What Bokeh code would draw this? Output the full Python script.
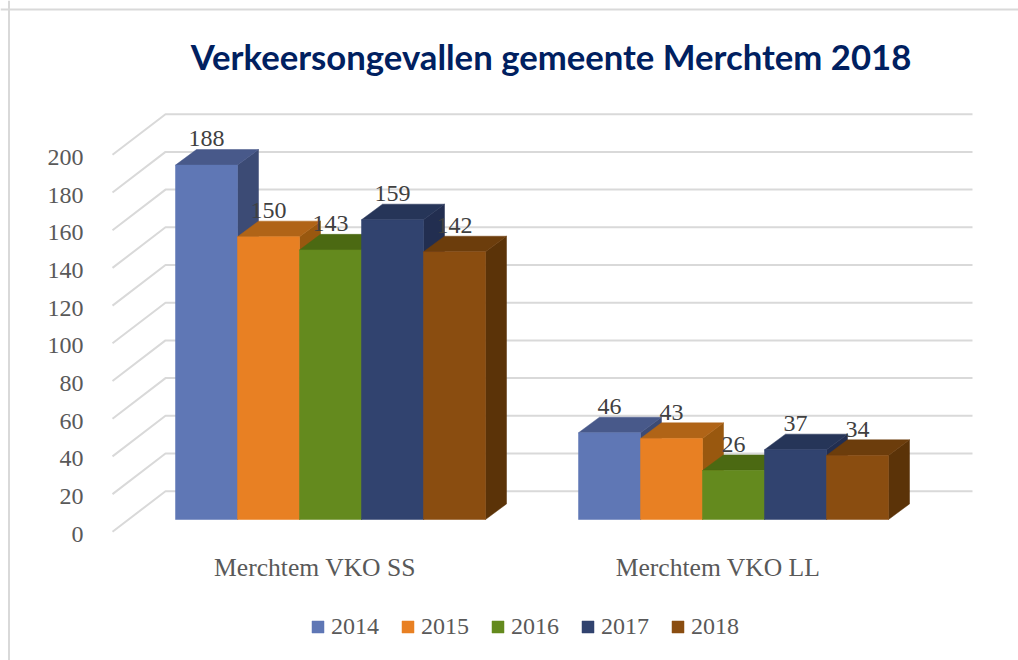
from bokeh.plotting import figure
from bokeh.embed import file_html
from bokeh.resources import INLINE
from bokeh.models import (Range1d, LinearAxis, FixedTicker, Label, Legend, LegendItem,
                          ColumnDataSource, Span)
from bokeh.core.properties import value

# ---- data ----
categories = ["Merchtem VKO SS", "Merchtem VKO LL"]
years = ["2014", "2015", "2016", "2017", "2018"]
values_2014 = [188, 46]
values_2015 = [150, 43]
values_2016 = [143, 26]
values_2017 = [159, 37]
values_2018 = [142, 34]
series = [values_2014, values_2015, values_2016, values_2017, values_2018]
y_ticks = list(range(0, 201, 20))
title_text = "Verkeersongevallen gemeente Merchtem 2018"

# ---- styles ----
front = ["#5f77b5", "#e88023", "#648a1e", "#31436f", "#8a4d10"]
top_c = ["#48598a", "#b06417", "#4b6912", "#263558", "#6c3d0c"]
side = ["#3c4b75", "#99580f", "#415b10", "#222e50", "#5b3308"]
GRID = "#d9d9d9"
AXTXT = "#595959"
LABTXT = "#404040"
SERIF = "Liberation Serif"

# ---- geometry: one x unit = one bar (62 px), y unit = one value (1.885 px) ----
W, H = 1018, 660
PXX, PXY = 62.0, 1.885
ORIGIN_X, ORIGIN_Y = 175.0, 531.3      # page pixel of x=0, y=0


def dx(px):
    return (px - ORIGIN_X) / PXX


def dy(py):
    return (ORIGIN_Y - py) / PXY


group_start = [0.0, 6.5]
bar_lift = 12.3 / PXY
bar_dx, bar_dy = 21 / PXX, 15.6 / PXY
wall_dx, wall_dy = 53 / PXX, 40.6 / PXY

p = figure(width=W, height=H, output_backend="svg", toolbar_location=None,
           x_range=Range1d(dx(0), dx(W)), y_range=Range1d(dy(H), dy(0)),
           x_axis_type=None, y_axis_type=None, min_border=0,
           min_border_left=0, min_border_right=0, min_border_top=0, min_border_bottom=0,
           outline_line_color=None, background_fill_color="white", border_fill_color="white")
p.grid.visible = False

# chart area border (top & left only are visible in the crop)
p.add_layout(Span(location=dx(8.5), dimension="height", line_color=GRID, line_width=2))
p.add_layout(Span(location=dy(9), dimension="width", line_color=GRID, line_width=2))

# gridlines: slanted floor part, then along the back wall
x_front = dx(112)
x_back = x_front + wall_dx
x_right = dx(972)
p.multi_line(xs=[[x_front, x_back, x_right] for _ in y_ticks],
             ys=[[t, t + wall_dy, t + wall_dy] for t in y_ticks],
             line_color=GRID, line_width=2)

# 3D bars
items = []
for i, vals in enumerate(series):
    x0 = [g + i for g in group_start]
    x1 = [g + i + 1 for g in group_start]
    b = [bar_lift for _ in vals]
    t = [bar_lift + v for v in vals]
    p.patches(xs=[[r, r + bar_dx, r + bar_dx, r] for r in x1],
              ys=[[bb, bb + bar_dy, tt + bar_dy, tt] for bb, tt in zip(b, t)],
              fill_color=side[i], line_color=side[i], line_width=0.5)
    p.patches(xs=[[l, l + bar_dx, r + bar_dx, r] for l, r in zip(x0, x1)],
              ys=[[tt, tt + bar_dy, tt + bar_dy, tt] for tt in t],
              fill_color=top_c[i], line_color=top_c[i], line_width=0.5)
    q = p.quad(left=x0, right=x1, bottom=b, top=t, fill_color=front[i], line_color=front[i], line_width=0.5)
    items.append(LegendItem(label=years[i], renderers=[q]))

# data labels on top
for i, vals in enumerate(series):
    src = ColumnDataSource(dict(
        x=[g + i + 0.5 for g in group_start],
        y=[bar_lift + v + 14 for v in vals],
        t=[str(v) for v in vals]))
    p.text(x="x", y="y", text="t", source=src, text_align="center", text_baseline="middle",
           text_color=LABTXT, text_font=value(SERIF), text_font_size="24px")

# axes with fixed locations so that they reserve no panel
label_shift = 2.5 / PXY          # tick labels sit a little below the gridline ends
y_tick_pos = [t - label_shift for t in y_ticks]
yax = LinearAxis(ticker=FixedTicker(ticks=y_tick_pos), fixed_location=dx(89),
                 major_label_overrides={pos: str(t) for pos, t in zip(y_tick_pos, y_ticks)},
                 axis_line_color=None, major_tick_line_color=None, minor_tick_line_color=None,
                 major_label_standoff=0, major_label_text_font=SERIF,
                 major_label_text_font_size="24px", major_label_text_color=AXTXT)
p.add_layout(yax, "left")

cat_ticks = [g + 2.5 - 0.25 for g in group_start]
xax = LinearAxis(ticker=FixedTicker(ticks=cat_ticks), fixed_location=dy(546),
                 major_label_overrides=dict(zip(cat_ticks, categories)),
                 axis_line_color=None, major_tick_line_color=None, minor_tick_line_color=None,
                 major_label_standoff=0, major_label_text_font=SERIF,
                 major_label_text_font_size="25.6px", major_label_text_color=AXTXT)
p.add_layout(xax, "below")

# title
p.add_layout(Label(x=dx(550.5), y=dy(55.5), text=title_text, text_align="center", text_baseline="middle",
                   text_font="Lato", text_font_style="bold", text_font_size="34.7px", text_color="#002060"))

# legend
legend = Legend(items=items, orientation="horizontal", location=(310, 20),
                glyph_width=15, glyph_height=15, label_standoff=6, spacing=21, padding=0, margin=0,
                border_line_color=None, background_fill_alpha=0,
                label_text_font=SERIF, label_text_font_size="24px", label_text_color=AXTXT)
p.add_layout(legend, "center")

open("out.html", "w").write(file_html(p, INLINE))
